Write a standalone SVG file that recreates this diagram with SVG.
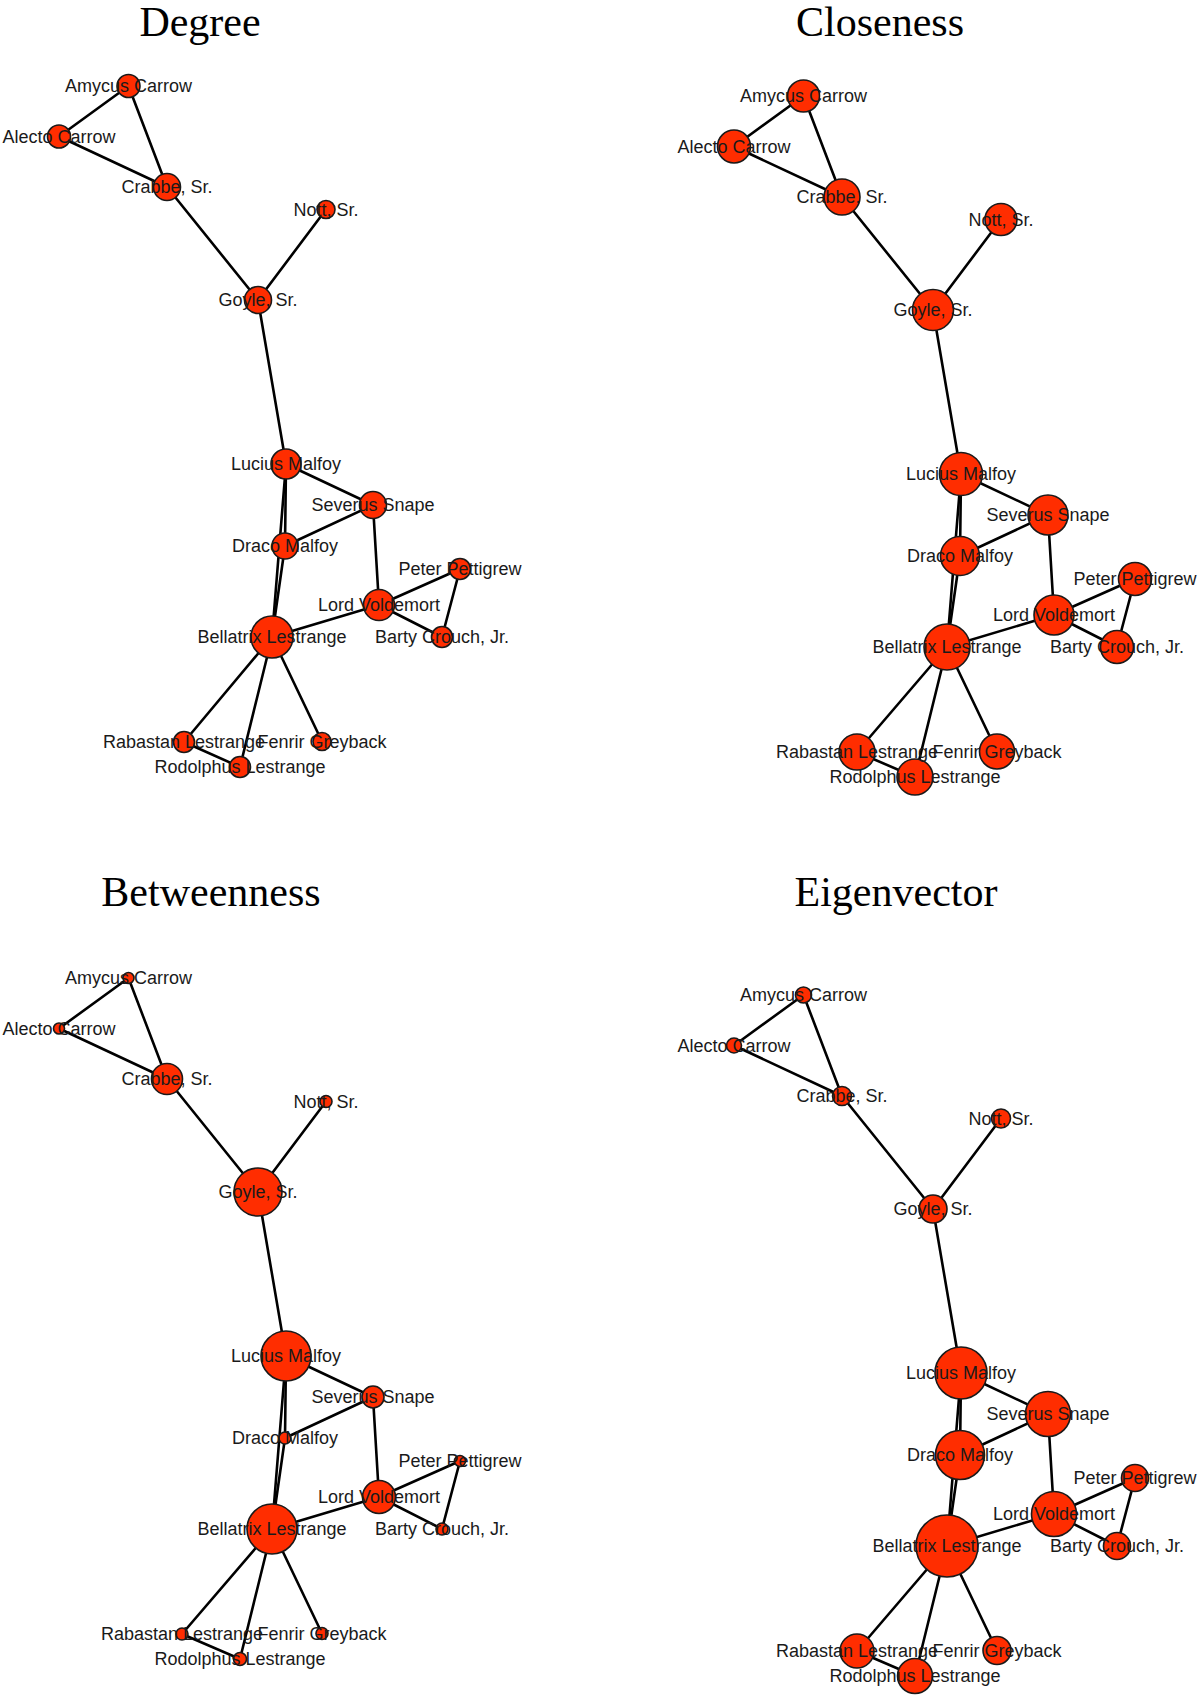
<svg xmlns="http://www.w3.org/2000/svg" width="1200" height="1699" viewBox="0 0 1200 1699">
<style>
.bg{fill:#fff}
.title{font-family:"Liberation Serif","Times New Roman",serif;font-size:42px;fill:#000;text-anchor:middle}
.edge{stroke:#000;stroke-width:2.6;stroke-linecap:round;fill:none}
.node circle{fill:#FF2D00;stroke:#1a1a1a;stroke-width:1.6}
.node text{font-family:"Liberation Sans",Arial,sans-serif;font-size:18px;fill:#1a1a1a;text-anchor:middle}
</style>
<rect class="bg" x="0" y="0" width="1200" height="1699"/>

<text id="title-degree" class="title" x="200" y="36">Degree</text>
<text id="title-closeness" class="title" x="880" y="36">Closeness</text>
<text id="title-betweenness" class="title" x="211" y="906">Betweenness</text>
<text id="title-eigenvector" class="title" x="896" y="906">Eigenvector</text>

<!-- ================= DEGREE ================= -->
<g id="panel-degree" transform="translate(0,0)">
<g id="degree-edges">
<line class="edge" x1="128.5" y1="86" x2="59" y2="136.5"/>
<line class="edge" x1="128.5" y1="86" x2="167" y2="187"/>
<line class="edge" x1="59" y1="136.5" x2="167" y2="187"/>
<line class="edge" x1="167" y1="187" x2="258" y2="300"/>
<line class="edge" x1="326" y1="209.5" x2="258" y2="300"/>
<line class="edge" x1="258" y1="300" x2="286" y2="464"/>
<line class="edge" x1="286" y1="464" x2="373" y2="505"/>
<line class="edge" x1="286" y1="464" x2="285" y2="546"/>
<line class="edge" x1="286" y1="464" x2="272" y2="637"/>
<line class="edge" x1="285" y1="546" x2="373" y2="505"/>
<line class="edge" x1="285" y1="546" x2="272" y2="637"/>
<line class="edge" x1="373" y1="505" x2="379" y2="605"/>
<line class="edge" x1="379" y1="605" x2="272" y2="637"/>
<line class="edge" x1="379" y1="605" x2="460" y2="569"/>
<line class="edge" x1="379" y1="605" x2="442" y2="637"/>
<line class="edge" x1="460" y1="569" x2="442" y2="637"/>
<line class="edge" x1="272" y1="637" x2="184" y2="742"/>
<line class="edge" x1="272" y1="637" x2="240" y2="767"/>
<line class="edge" x1="272" y1="637" x2="322" y2="741.5"/>
<line class="edge" x1="184" y1="742" x2="240" y2="767"/>
</g>
<g id="degree-amycus" class="node"><circle cx="128.5" cy="86" r="11.5"/><text x="128.5" y="92">Amycus Carrow</text></g>
<g id="degree-alecto" class="node"><circle cx="59" cy="136.5" r="11.5"/><text x="59" y="142.5">Alecto Carrow</text></g>
<g id="degree-crabbe" class="node"><circle cx="167" cy="187" r="13.5"/><text x="167" y="193">Crabbe, Sr.</text></g>
<g id="degree-nott" class="node"><circle cx="326" cy="209.5" r="9"/><text x="326" y="215.5">Nott, Sr.</text></g>
<g id="degree-goyle" class="node"><circle cx="258" cy="300" r="13.5"/><text x="258" y="306">Goyle, Sr.</text></g>
<g id="degree-lucius" class="node"><circle cx="286" cy="464" r="15"/><text x="286" y="470">Lucius Malfoy</text></g>
<g id="degree-severus" class="node"><circle cx="373" cy="505" r="13.5"/><text x="373" y="511">Severus Snape</text></g>
<g id="degree-draco" class="node"><circle cx="285" cy="546" r="13"/><text x="285" y="552">Draco Malfoy</text></g>
<g id="degree-peter" class="node"><circle cx="460" cy="569" r="10.5"/><text x="460" y="575">Peter Pettigrew</text></g>
<g id="degree-voldemort" class="node"><circle cx="379" cy="605" r="15.5"/><text x="379" y="611">Lord Voldemort</text></g>
<g id="degree-bellatrix" class="node"><circle cx="272" cy="637" r="21"/><text x="272" y="643">Bellatrix Lestrange</text></g>
<g id="degree-barty" class="node"><circle cx="442" cy="637" r="10.5"/><text x="442" y="643">Barty Crouch, Jr.</text></g>
<g id="degree-rodolphus" class="node"><circle cx="240" cy="767" r="10.5"/><text x="240" y="773">Rodolphus Lestrange</text></g>
<g id="degree-rabastan" class="node"><circle cx="184" cy="742" r="10.5"/><text x="184" y="748">Rabastan Lestrange</text></g>
<g id="degree-fenrir" class="node"><circle cx="322" cy="741.5" r="9"/><text x="322" y="747.5">Fenrir Greyback</text></g>
</g>

<!-- ================= CLOSENESS ================= -->
<g id="panel-closeness" transform="translate(675,10)">
<g id="closeness-edges">
<line class="edge" x1="128.5" y1="86" x2="59" y2="136.5"/>
<line class="edge" x1="128.5" y1="86" x2="167" y2="187"/>
<line class="edge" x1="59" y1="136.5" x2="167" y2="187"/>
<line class="edge" x1="167" y1="187" x2="258" y2="300"/>
<line class="edge" x1="326" y1="209.5" x2="258" y2="300"/>
<line class="edge" x1="258" y1="300" x2="286" y2="464"/>
<line class="edge" x1="286" y1="464" x2="373" y2="505"/>
<line class="edge" x1="286" y1="464" x2="285" y2="546"/>
<line class="edge" x1="286" y1="464" x2="272" y2="637"/>
<line class="edge" x1="285" y1="546" x2="373" y2="505"/>
<line class="edge" x1="285" y1="546" x2="272" y2="637"/>
<line class="edge" x1="373" y1="505" x2="379" y2="605"/>
<line class="edge" x1="379" y1="605" x2="272" y2="637"/>
<line class="edge" x1="379" y1="605" x2="460" y2="569"/>
<line class="edge" x1="379" y1="605" x2="442" y2="637"/>
<line class="edge" x1="460" y1="569" x2="442" y2="637"/>
<line class="edge" x1="272" y1="637" x2="182" y2="742"/>
<line class="edge" x1="272" y1="637" x2="240" y2="767"/>
<line class="edge" x1="272" y1="637" x2="322" y2="741.5"/>
<line class="edge" x1="182" y1="742" x2="240" y2="767"/>
</g>
<g id="closeness-amycus" class="node"><circle cx="128.5" cy="86" r="16"/><text x="128.5" y="92">Amycus Carrow</text></g>
<g id="closeness-alecto" class="node"><circle cx="59" cy="136.5" r="16.5"/><text x="59" y="142.5">Alecto Carrow</text></g>
<g id="closeness-crabbe" class="node"><circle cx="167" cy="187" r="18"/><text x="167" y="193">Crabbe, Sr.</text></g>
<g id="closeness-nott" class="node"><circle cx="326" cy="209.5" r="16"/><text x="326" y="215.5">Nott, Sr.</text></g>
<g id="closeness-goyle" class="node"><circle cx="258" cy="300" r="20.5"/><text x="258" y="306">Goyle, Sr.</text></g>
<g id="closeness-lucius" class="node"><circle cx="286" cy="464" r="21.5"/><text x="286" y="470">Lucius Malfoy</text></g>
<g id="closeness-severus" class="node"><circle cx="373" cy="505" r="20"/><text x="373" y="511">Severus Snape</text></g>
<g id="closeness-draco" class="node"><circle cx="285" cy="546" r="19.5"/><text x="285" y="552">Draco Malfoy</text></g>
<g id="closeness-peter" class="node"><circle cx="460" cy="569" r="16.5"/><text x="460" y="575">Peter Pettigrew</text></g>
<g id="closeness-voldemort" class="node"><circle cx="379" cy="605" r="20"/><text x="379" y="611">Lord Voldemort</text></g>
<g id="closeness-bellatrix" class="node"><circle cx="272" cy="637" r="23"/><text x="272" y="643">Bellatrix Lestrange</text></g>
<g id="closeness-barty" class="node"><circle cx="442" cy="637" r="16.5"/><text x="442" y="643">Barty Crouch, Jr.</text></g>
<g id="closeness-rodolphus" class="node"><circle cx="240" cy="767" r="18"/><text x="240" y="773">Rodolphus Lestrange</text></g>
<g id="closeness-rabastan" class="node"><circle cx="182" cy="742" r="18"/><text x="182" y="748">Rabastan Lestrange</text></g>
<g id="closeness-fenrir" class="node"><circle cx="322" cy="741.5" r="17.5"/><text x="322" y="747.5">Fenrir Greyback</text></g>
</g>

<!-- ================= BETWEENNESS ================= -->
<g id="panel-betweenness" transform="translate(0,892)">
<g id="betweenness-edges">
<line class="edge" x1="128.5" y1="86" x2="59" y2="136.5"/>
<line class="edge" x1="128.5" y1="86" x2="167" y2="187"/>
<line class="edge" x1="59" y1="136.5" x2="167" y2="187"/>
<line class="edge" x1="167" y1="187" x2="258" y2="300"/>
<line class="edge" x1="326" y1="209.5" x2="258" y2="300"/>
<line class="edge" x1="258" y1="300" x2="286" y2="464"/>
<line class="edge" x1="286" y1="464" x2="373" y2="505"/>
<line class="edge" x1="286" y1="464" x2="285" y2="546"/>
<line class="edge" x1="286" y1="464" x2="272" y2="637"/>
<line class="edge" x1="285" y1="546" x2="373" y2="505"/>
<line class="edge" x1="285" y1="546" x2="272" y2="637"/>
<line class="edge" x1="373" y1="505" x2="379" y2="605"/>
<line class="edge" x1="379" y1="605" x2="272" y2="637"/>
<line class="edge" x1="379" y1="605" x2="460" y2="569"/>
<line class="edge" x1="379" y1="605" x2="442" y2="637"/>
<line class="edge" x1="460" y1="569" x2="442" y2="637"/>
<line class="edge" x1="272" y1="637" x2="182" y2="742"/>
<line class="edge" x1="272" y1="637" x2="240" y2="767"/>
<line class="edge" x1="272" y1="637" x2="322" y2="741.5"/>
<line class="edge" x1="182" y1="742" x2="240" y2="767"/>
</g>
<g id="betweenness-amycus" class="node"><circle cx="128.5" cy="86" r="5.5"/><text x="128.5" y="92">Amycus Carrow</text></g>
<g id="betweenness-alecto" class="node"><circle cx="59" cy="136.5" r="5.5"/><text x="59" y="142.5">Alecto Carrow</text></g>
<g id="betweenness-crabbe" class="node"><circle cx="167" cy="187" r="15.5"/><text x="167" y="193">Crabbe, Sr.</text></g>
<g id="betweenness-nott" class="node"><circle cx="326" cy="209.5" r="6"/><text x="326" y="215.5">Nott, Sr.</text></g>
<g id="betweenness-goyle" class="node"><circle cx="258" cy="300" r="24"/><text x="258" y="306">Goyle, Sr.</text></g>
<g id="betweenness-lucius" class="node"><circle cx="286" cy="464" r="25"/><text x="286" y="470">Lucius Malfoy</text></g>
<g id="betweenness-severus" class="node"><circle cx="373" cy="505" r="11"/><text x="373" y="511">Severus Snape</text></g>
<g id="betweenness-draco" class="node"><circle cx="285" cy="546" r="6"/><text x="285" y="552">Draco Malfoy</text></g>
<g id="betweenness-peter" class="node"><circle cx="460" cy="569" r="5.5"/><text x="460" y="575">Peter Pettigrew</text></g>
<g id="betweenness-voldemort" class="node"><circle cx="379" cy="605" r="16.5"/><text x="379" y="611">Lord Voldemort</text></g>
<g id="betweenness-bellatrix" class="node"><circle cx="272" cy="637" r="25"/><text x="272" y="643">Bellatrix Lestrange</text></g>
<g id="betweenness-barty" class="node"><circle cx="442" cy="637" r="6"/><text x="442" y="643">Barty Crouch, Jr.</text></g>
<g id="betweenness-rodolphus" class="node"><circle cx="240" cy="767" r="6.5"/><text x="240" y="773">Rodolphus Lestrange</text></g>
<g id="betweenness-rabastan" class="node"><circle cx="182" cy="742" r="6"/><text x="182" y="748">Rabastan Lestrange</text></g>
<g id="betweenness-fenrir" class="node"><circle cx="322" cy="741.5" r="6"/><text x="322" y="747.5">Fenrir Greyback</text></g>
</g>

<!-- ================= EIGENVECTOR ================= -->
<g id="panel-eigenvector" transform="translate(675,909)">
<g id="eigenvector-edges">
<line class="edge" x1="128.5" y1="86" x2="59" y2="136.5"/>
<line class="edge" x1="128.5" y1="86" x2="167" y2="187"/>
<line class="edge" x1="59" y1="136.5" x2="167" y2="187"/>
<line class="edge" x1="167" y1="187" x2="258" y2="300"/>
<line class="edge" x1="326" y1="209.5" x2="258" y2="300"/>
<line class="edge" x1="258" y1="300" x2="286" y2="464"/>
<line class="edge" x1="286" y1="464" x2="373" y2="505"/>
<line class="edge" x1="286" y1="464" x2="285" y2="546"/>
<line class="edge" x1="286" y1="464" x2="272" y2="637"/>
<line class="edge" x1="285" y1="546" x2="373" y2="505"/>
<line class="edge" x1="285" y1="546" x2="272" y2="637"/>
<line class="edge" x1="373" y1="505" x2="379" y2="605"/>
<line class="edge" x1="379" y1="605" x2="272" y2="637"/>
<line class="edge" x1="379" y1="605" x2="460" y2="569"/>
<line class="edge" x1="379" y1="605" x2="442" y2="637"/>
<line class="edge" x1="460" y1="569" x2="442" y2="637"/>
<line class="edge" x1="272" y1="637" x2="182" y2="742"/>
<line class="edge" x1="272" y1="637" x2="240" y2="767"/>
<line class="edge" x1="272" y1="637" x2="322" y2="741.5"/>
<line class="edge" x1="182" y1="742" x2="240" y2="767"/>
</g>
<g id="eigenvector-amycus" class="node"><circle cx="128.5" cy="86" r="8"/><text x="128.5" y="92">Amycus Carrow</text></g>
<g id="eigenvector-alecto" class="node"><circle cx="59" cy="136.5" r="7.5"/><text x="59" y="142.5">Alecto Carrow</text></g>
<g id="eigenvector-crabbe" class="node"><circle cx="167" cy="187" r="9.5"/><text x="167" y="193">Crabbe, Sr.</text></g>
<g id="eigenvector-nott" class="node"><circle cx="326" cy="209.5" r="9.5"/><text x="326" y="215.5">Nott, Sr.</text></g>
<g id="eigenvector-goyle" class="node"><circle cx="258" cy="300" r="14"/><text x="258" y="306">Goyle, Sr.</text></g>
<g id="eigenvector-lucius" class="node"><circle cx="286" cy="464" r="26"/><text x="286" y="470">Lucius Malfoy</text></g>
<g id="eigenvector-severus" class="node"><circle cx="373" cy="505" r="22.5"/><text x="373" y="511">Severus Snape</text></g>
<g id="eigenvector-draco" class="node"><circle cx="285" cy="546" r="24.5"/><text x="285" y="552">Draco Malfoy</text></g>
<g id="eigenvector-peter" class="node"><circle cx="460" cy="569" r="13.5"/><text x="460" y="575">Peter Pettigrew</text></g>
<g id="eigenvector-voldemort" class="node"><circle cx="379" cy="605" r="22.5"/><text x="379" y="611">Lord Voldemort</text></g>
<g id="eigenvector-bellatrix" class="node"><circle cx="272" cy="637" r="31"/><text x="272" y="643">Bellatrix Lestrange</text></g>
<g id="eigenvector-barty" class="node"><circle cx="442" cy="637" r="13.5"/><text x="442" y="643">Barty Crouch, Jr.</text></g>
<g id="eigenvector-rodolphus" class="node"><circle cx="240" cy="767" r="17.5"/><text x="240" y="773">Rodolphus Lestrange</text></g>
<g id="eigenvector-rabastan" class="node"><circle cx="182" cy="742" r="17"/><text x="182" y="748">Rabastan Lestrange</text></g>
<g id="eigenvector-fenrir" class="node"><circle cx="322" cy="741.5" r="14"/><text x="322" y="747.5">Fenrir Greyback</text></g>
</g>
</svg>
